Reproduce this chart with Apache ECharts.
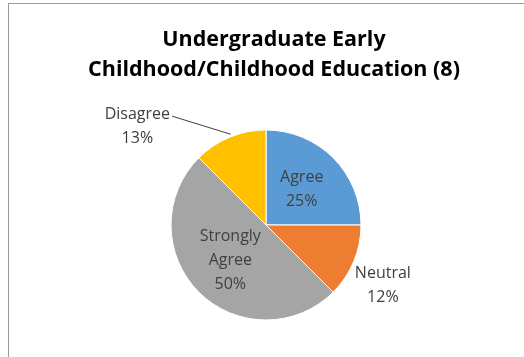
<!DOCTYPE html>
<html>
<head>
<meta charset="utf-8">
<script src="https://cdn.jsdelivr.net/npm/echarts@6/dist/echarts.min.js"></script>
<style>
html,body{margin:0;padding:0;background:#fff;}
#frame{position:absolute;left:8px;top:3px;width:516px;height:354px;border-top:1px solid #9a9a9a;border-left:1px solid #9a9a9a;box-sizing:border-box;}
#chart{position:absolute;left:8px;top:3px;width:516px;height:354px;}
</style>
</head>
<body>
<div id="frame"></div>
<div id="chart"></div>
<script>
const titleText = 'Undergraduate Early\nChildhood/Childhood Education (8)';
const categories = ['Agree', 'Neutral', 'Strongly\nAgree', 'Disagree'];
const counts = [2, 1, 4, 1];
const percentLabels = ['25%', '12%', '50%', '13%'];
const colors = ['#5B9BD5', '#ED7D31', '#A5A5A5', '#FFC000'];

const labelFont = { fontFamily: 'Open Sans', fontSize: 16, color: '#404040', lineHeight: 24 };
// label nudges (relative to the library's default outside placement)
const labelShift = { 1: [-45, 19], 3: [-20, 0] };

const data = categories.map((c, i) => {
  const outside = (i === 1 || i === 3);
  return {
    name: c,
    value: counts[i],
    itemStyle: { color: colors[i] },
    label: Object.assign({
      show: true,
      position: outside ? 'outside' : 'inside',
      align: 'center',
      formatter: c + '\n' + percentLabels[i]
    }, labelFont),
    labelLine: { show: i === 3, length: 12, length2: 30, lineStyle: { color: '#404040', width: 1 } }
  };
});

const chart = echarts.init(document.getElementById('chart'));
chart.setOption({
  backgroundColor: 'transparent',
  animation: false,
  title: {
    text: titleText,
    left: 261,
    textAlign: 'center',
    top: 17,
    textStyle: { fontFamily: 'Open Sans', fontWeight: 'bold', fontSize: 21.5, color: '#000', lineHeight: 30 }
  },
  series: [{
    type: 'pie',
    center: [258, 222],
    radius: 95,
    startAngle: 90,
    clockwise: true,
    itemStyle: { borderColor: '#fff', borderWidth: 1 },
    data: data,
    labelLayout: function (p) {
      const s = labelShift[p.dataIndex];
      if (!s) return {};
      const r = p.labelRect;
      const cx = r.x + r.width / 2 + s[0];
      const cy = r.y + r.height / 2 + s[1];
      const out = { x: cx, y: cy, align: 'center', verticalAlign: 'middle' };
      if (p.dataIndex === 3 && p.labelLinePoints) {
        const start = p.labelLinePoints[0];
        out.labelLinePoints = [
          [start[0] + 1, start[1] - 3],
          [cx + r.width / 2 + 2, cy - r.height / 4 + 2]
        ];
      }
      return out;
    }
  }]
});
</script>
</body>
</html>
